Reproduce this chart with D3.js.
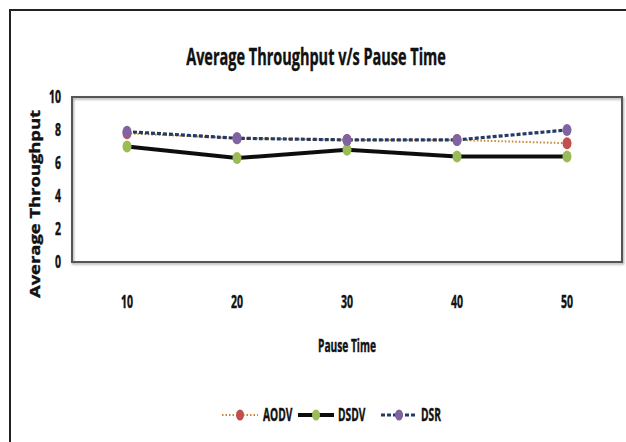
<!DOCTYPE html>
<html>
<head>
<meta charset="utf-8">
<script src="https://cdn.jsdelivr.net/npm/d3@7"></script>
<style>
  html, body { margin: 0; background: #fff; overflow: hidden; }
  svg { display: block; }
  text { font-family: "Open Sans", "DejaVu Sans", sans-serif; font-weight: 700; fill: #111;
         stroke: #111; stroke-width: 0.4; }
</style>
</head>
<body>
<svg id="chart" width="626" height="442"></svg>
<script>
// pause time categories and throughput per protocol
const pauseTimes = [10, 20, 30, 40, 50];
const aodv = [7.8, 7.5, 7.4, 7.4, 7.2];
const dsdv = [7.0, 6.3, 6.8, 6.4, 6.4];
const dsr  = [7.9, 7.5, 7.4, 7.4, 8.0];
const yTicks = [0, 2, 4, 6, 8, 10];

const series = [
  { name: 'AODV', values: aodv, line: '#c8862e', width: 2, dash: '1.5,2', marker: '#c0504d' },
  { name: 'DSDV', values: dsdv, line: '#111', width: 4, dash: null, marker: '#9bbb59' },
  { name: 'DSR',  values: dsr,  line: '#243b63', width: 3.2, dash: '4,2', marker: '#8064a2' }
];

const svg = d3.select('#chart');
const plot = { left: 72, top: 97, right: 622, bottom: 262 };

const defs = svg.append('defs');
defs.append('filter').attr('id', 'soft')
  .append('feGaussianBlur').attr('stdDeviation', 0.5);
const sh = defs.append('filter').attr('id', 'shadow')
  .attr('x', '-5%').attr('y', '-50%').attr('width', '110%').attr('height', '200%');
sh.append('feDropShadow').attr('dx', 1).attr('dy', 1.5).attr('stdDeviation', 0.8)
  .attr('flood-color', '#000').attr('flood-opacity', 0.35);

// condensed bold label: narrow the glyphs horizontally
function label(x, y, str, size, sx, anchor) {
  const g = svg.append('g').attr('transform', `translate(${x},${y}) scale(${sx},1)`);
  return g.append('text').attr('text-anchor', anchor || 'middle')
    .attr('font-size', size).text(str);
}

// outer chart frame: only its top and left edges fall inside the page
svg.append('path').attr('d', 'M10,442V10H626')
  .attr('fill', 'none').attr('stroke', '#222').attr('stroke-width', 2);

const x = d3.scaleBand().domain(pauseTimes).range([plot.left, plot.right]);
const y = d3.scaleLinear().domain([0, 10]).range([plot.bottom, plot.top]);

// horizontal gridlines
svg.append('g').selectAll('line').data(yTicks.filter(d => d > 0 && d < 10)).join('line')
  .attr('x1', plot.left).attr('x2', plot.right)
  .attr('y1', d => y(d)).attr('y2', d => y(d))
  .attr('stroke', '#8a8a8a').attr('stroke-width', 2).attr('filter', 'url(#shadow)');

svg.append('rect')
  .attr('x', plot.left).attr('y', plot.top)
  .attr('width', plot.right - plot.left).attr('height', plot.bottom - plot.top)
  .attr('fill', 'none').attr('stroke', '#555').attr('stroke-width', 2)
  .attr('filter', 'url(#shadow)');

// axis tick labels
yTicks.forEach(t => label(61, y(t) + 6, String(t), 17, 0.62, 'end'));
pauseTimes.forEach(p => label(x(p) + x.bandwidth() / 2, 308, String(p), 17, 0.62));

// titles
label(316, 65, 'Average Throughput v/s Pause Time', 23, 0.63);
label(347, 352, 'Pause Time', 17, 0.6);
svg.append('text').attr('transform', 'translate(40,204) rotate(-90)')
  .attr('text-anchor', 'middle').attr('font-size', 14.5)
  .attr('textLength', 188).attr('lengthAdjust', 'spacingAndGlyphs')
  .text('Average Throughput');

const cx = d => x(d) + x.bandwidth() / 2;
const line = d3.line().x((v, i) => cx(pauseTimes[i])).y(v => y(v));

const lines = svg.append('g').attr('filter', 'url(#soft)');
series.forEach(s => {
  lines.append('path').datum(s.values).attr('d', line)
    .attr('fill', 'none').attr('stroke', s.line).attr('stroke-width', s.width)
    .attr('stroke-dasharray', s.dash);
});
series.forEach(s => {
  lines.append('g').selectAll('ellipse').data(s.values).join('ellipse')
    .attr('cx', (v, i) => cx(pauseTimes[i])).attr('cy', v => y(v))
    .attr('rx', 4.5).attr('ry', 6).attr('fill', s.marker);
});

// legend
const legendX = [222, 298, 381];
const legendTextX = [263, 338, 421];
series.forEach((s, i) => {
  const g = svg.append('g').attr('filter', 'url(#soft)');
  g.append('line').attr('x1', legendX[i]).attr('x2', legendX[i] + 36)
    .attr('y1', 415).attr('y2', 415)
    .attr('stroke', s.line).attr('stroke-width', s.width).attr('stroke-dasharray', s.dash);
  g.append('ellipse').attr('cx', legendX[i] + 18).attr('cy', 415)
    .attr('rx', 4).attr('ry', 5.5).attr('fill', s.marker);
  label(legendTextX[i], 421, s.name, 17, 0.6, 'start');
});
</script>
</body>
</html>
